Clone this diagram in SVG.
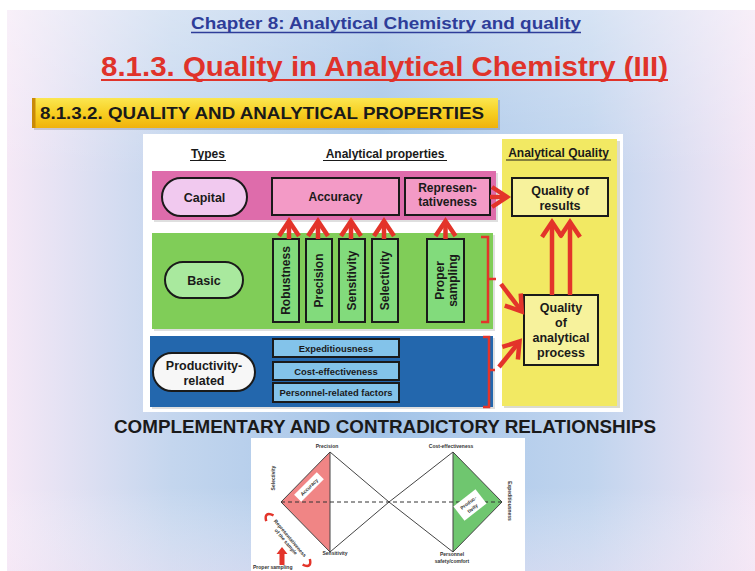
<svg xmlns="http://www.w3.org/2000/svg" width="755" height="571" viewBox="0 0 755 571">
<defs>
<linearGradient id="bg" x1="0" y1="0" x2="1" y2="0">
<stop offset="0" stop-color="#f5e8f6"/>
<stop offset="0.22" stop-color="#c4d6ee"/>
<stop offset="0.5" stop-color="#a3c4e8"/>
<stop offset="0.78" stop-color="#c0d4ee"/>
<stop offset="1" stop-color="#f4e6f5"/>
</linearGradient>
<linearGradient id="bgv" x1="0" y1="0" x2="0" y2="1">
<stop offset="0" stop-color="#ffffff" stop-opacity="0.35"/>
<stop offset="0.3" stop-color="#ffffff" stop-opacity="0"/>
<stop offset="0.85" stop-color="#ffffff" stop-opacity="0"/>
<stop offset="1" stop-color="#f6e8f6" stop-opacity="0.4"/>
</linearGradient>
<linearGradient id="ban" x1="0" y1="0" x2="0" y2="1">
<stop offset="0" stop-color="#fbe650"/>
<stop offset="0.5" stop-color="#f7cf22"/>
<stop offset="1" stop-color="#f0b20c"/>
</linearGradient>
<marker id="ah" markerUnits="userSpaceOnUse" markerWidth="40" markerHeight="40" viewBox="-20 -20 40 40" refX="0" refY="0" orient="auto" overflow="visible">
<path d="M-15,-10 L0,0 L-15,10" fill="none" stroke="#e3342a" stroke-width="4.5"/>
</marker>
<style>
.t{font-family:"Liberation Sans",Arial,sans-serif;font-weight:bold;fill:#1a1a1a}
.c{text-anchor:middle}
.box{stroke:#1a1a1a;stroke-width:2}
.arr{stroke:#e3342a;stroke-width:4.5;fill:none;marker-end:url(#ah)}
.br{stroke:#e3342a;stroke-width:2.5;fill:none}
.s{font-family:"Liberation Sans",Arial,sans-serif;font-weight:bold;fill:#333;font-size:5px;text-anchor:middle}
</style>
</defs>
<rect x="0" y="0" width="755" height="571" fill="#ffffff"/>
<rect x="7" y="10" width="748" height="561" fill="url(#bg)"/>
<rect x="7" y="10" width="748" height="561" fill="url(#bgv)"/>

<g id="titles">
<text class="t" x="191" y="29" font-size="17" fill="#2e3d99" style="fill:#2e3d99" textLength="390" lengthAdjust="spacingAndGlyphs">Chapter 8: Analytical Chemistry and quality</text>
<line x1="191" y1="32.5" x2="581" y2="32.5" stroke="#2e3d99" stroke-width="1.6"/>
<text class="t" x="101" y="75.5" font-size="27" style="fill:#e0332a" textLength="567" lengthAdjust="spacingAndGlyphs">8.1.3. Quality in Analytical Chemistry (III)</text>
<line x1="101" y1="80" x2="668" y2="80" stroke="#e0332a" stroke-width="2.2"/>
</g>

<g id="banner">
<rect x="34" y="100" width="466" height="30" fill="#000" opacity="0.15"/>
<rect x="32" y="98" width="466" height="30" fill="url(#ban)"/>
<rect x="32" y="98" width="3.5" height="30" fill="#c98a08"/>
<text class="t" x="40" y="119.3" font-size="17" textLength="444" lengthAdjust="spacingAndGlyphs">8.1.3.2. QUALITY AND ANALYTICAL PROPERTIES</text>
</g>

<rect id="panel" x="143" y="134" width="480" height="278" fill="#ffffff"/>

<g id="headers">
<text class="t c" x="208" y="158" font-size="12">Types</text>
<line x1="190" y1="160.5" x2="226" y2="160.5" stroke="#1a1a1a" stroke-width="1.2"/>
<text class="t c" x="385" y="158" font-size="12">Analytical properties</text>
<line x1="323" y1="160.5" x2="447" y2="160.5" stroke="#1a1a1a" stroke-width="1.2"/>
</g>

<g id="yellow-column">
<rect x="504" y="141" width="116" height="267" fill="#b8b8a0" opacity="0.5"/>
<rect x="502" y="139" width="115" height="267" fill="#f2e963"/>
<text class="t c" x="558.5" y="157" font-size="12">Analytical Quality</text>
<line x1="506" y1="160" x2="611" y2="160" stroke="#1a1a1a" stroke-width="1.2"/>
</g>

<g id="band-capital">
<rect x="154" y="173" width="344" height="49" fill="#b0b0b0" opacity="0.4"/>
<rect x="152" y="171" width="344" height="49" fill="#de6cab"/>
</g>
<g id="band-basic">
<rect x="154" y="235" width="341" height="96" fill="#b0b0b0" opacity="0.4"/>
<rect x="152" y="233" width="341" height="96" fill="#80cd58"/>
</g>
<g id="band-productivity">
<rect x="152" y="338" width="343" height="71" fill="#b0b0b0" opacity="0.4"/>
<rect x="150" y="336" width="343" height="71" fill="#2367ad"/>
</g>

<g id="capital">
<rect class="box" x="162" y="178" width="85" height="38" rx="19" fill="#f1c9ef"/>
<text class="t c" x="204.5" y="201.5" font-size="12.5">Capital</text>
</g>
<g id="accuracy">
<rect class="box" x="272" y="178" width="127" height="37" fill="#f39ac6"/>
<text class="t c" x="335.5" y="201" font-size="12">Accuracy</text>
</g>
<g id="representativeness">
<rect class="box" x="405" y="178" width="85" height="37" fill="#f39ac6"/>
<text class="t c" x="447.5" y="192" font-size="12">Represen-</text>
<text class="t c" x="447.5" y="206" font-size="12">tativeness</text>
</g>

<g id="basic">
<rect class="box" x="165" y="262" width="78" height="36" rx="18" fill="#a9e99e"/>
<text class="t c" x="204" y="284.5" font-size="12.5">Basic</text>
</g>
<g id="robustness">
<rect class="box" x="273" y="239" width="26" height="83" fill="#82db7c"/>
<text class="t c" font-size="12" transform="translate(290.3,280.5) rotate(-90)">Robustness</text>
</g>
<g id="precision">
<rect class="box" x="306" y="239" width="26" height="83" fill="#82db7c"/>
<text class="t c" font-size="12" transform="translate(323.3,280.5) rotate(-90)">Precision</text>
</g>
<g id="sensitivity">
<rect class="box" x="339" y="239" width="26" height="83" fill="#82db7c"/>
<text class="t c" font-size="12" transform="translate(356.3,280.5) rotate(-90)">Sensitivity</text>
</g>
<g id="selectivity">
<rect class="box" x="372" y="239" width="26" height="83" fill="#82db7c"/>
<text class="t c" font-size="12" transform="translate(389.3,280.5) rotate(-90)">Selectivity</text>
</g>
<g id="proper-sampling">
<rect class="box" x="427" y="239" width="37" height="83" fill="#82db7c"/>
<text class="t c" font-size="12" transform="translate(443.8,280.5) rotate(-90)">Proper</text>
<text class="t c" font-size="12" transform="translate(457.3,280.5) rotate(-90)">sampling</text>
</g>

<g id="productivity-related">
<rect class="box" x="153" y="353" width="102" height="38" rx="19" fill="#f7f7f7"/>
<text class="t c" x="204" y="370" font-size="12.5">Productivity-</text>
<text class="t c" x="204" y="384.5" font-size="12.5">related</text>
</g>
<g id="expeditiousness">
<rect class="box" x="273" y="339" width="126" height="18" fill="#83c3ea"/>
<text class="t c" x="336" y="351.5" font-size="9.4">Expeditiousness</text>
</g>
<g id="cost-effectiveness">
<rect class="box" x="273" y="362" width="126" height="18" fill="#83c3ea"/>
<text class="t c" x="336" y="374.5" font-size="9.4">Cost-effectiveness</text>
</g>
<g id="personnel">
<rect class="box" x="273" y="383" width="126" height="19" fill="#83c3ea"/>
<text class="t c" x="336" y="396" font-size="9.4">Personnel-related factors</text>
</g>

<g id="quality-results">
<rect class="box" x="512" y="178" width="96" height="38" fill="#f7f29c"/>
<text class="t c" x="560" y="195" font-size="12.5">Quality of</text>
<text class="t c" x="560" y="209.5" font-size="12.5">results</text>
</g>
<g id="quality-process">
<rect class="box" x="524" y="295" width="74" height="70" fill="#f7f29c"/>
<text class="t c" x="561" y="312" font-size="12.5">Quality</text>
<text class="t c" x="561" y="327" font-size="12.5">of</text>
<text class="t c" x="561" y="342" font-size="12.5">analytical</text>
<text class="t c" x="561" y="357" font-size="12.5">process</text>
</g>

<g id="connectors">
<line class="arr" x1="289" y1="239" x2="289" y2="221"/>
<line class="arr" x1="318" y1="239" x2="318" y2="221"/>
<line class="arr" x1="351" y1="239" x2="351" y2="221"/>
<line class="arr" x1="384" y1="239" x2="384" y2="221"/>
<line class="arr" x1="445.5" y1="239" x2="445.5" y2="221"/>
<line class="arr" x1="490" y1="197" x2="507" y2="197"/>
<line class="arr" x1="552" y1="295" x2="552" y2="222"/>
<line class="arr" x1="570" y1="295" x2="570" y2="222"/>
<path class="br" d="M481,237 H488 V322 H481 M488,279 H496"/>
<path class="br" d="M483,337 H489 V407 H483 M489,370 H495"/>
<line class="arr" x1="501" y1="284" x2="521.8" y2="311.5"/>
<line class="arr" x1="499" y1="367" x2="519.5" y2="341.5"/>
</g>

<g id="subtitle">
<text class="t" x="114" y="433" font-size="18" textLength="542" lengthAdjust="spacingAndGlyphs">COMPLEMENTARY AND CONTRADICTORY RELATIONSHIPS</text>
</g>

<g id="relationship-figure">
<rect x="251" y="438" width="274" height="133" fill="#ffffff"/>
<polygon points="281,502 330,452 330,552" fill="#f08585"/>
<polygon points="453,452 502,502 453,552" fill="#6fc66f"/>
<polygon points="281,502 330,452 389,502 330,552" fill="none" stroke="#444" stroke-width="1"/>
<polygon points="389,502 453,452 502,502 453,552" fill="none" stroke="#444" stroke-width="1"/>
<line x1="330" y1="452" x2="330" y2="552" stroke="#444" stroke-width="1"/>
<line x1="453" y1="452" x2="453" y2="552" stroke="#444" stroke-width="1"/>
<line x1="281" y1="502" x2="502" y2="502" stroke="#333" stroke-width="1" stroke-dasharray="4,3"/>
<text class="s" x="327" y="448">Precision</text>
<text class="s" x="451" y="448">Cost-effectiveness</text>
<text class="s" x="335" y="555">Sensitivity</text>
<text class="s" x="452" y="556">Personnel</text>
<text class="s" x="452" y="563">safety/comfort</text>
<text class="s" transform="translate(275,478) rotate(-90)">Selectivity</text>
<text class="s" transform="translate(507.5,501) rotate(90)">Expeditiousness</text>
<g transform="translate(309,487) rotate(-45)">
<rect x="-16" y="-5" width="32" height="10" fill="#ffffff"/>
<text class="s" x="0" y="2" font-size="5.5">Accuracy</text>
</g>
<g transform="translate(470,505) rotate(-38)">
<rect x="-14" y="-9" width="28" height="18" fill="#ffffff"/>
<text class="s" x="0" y="-1" font-size="5.5">Produc-</text>
<text class="s" x="0" y="6" font-size="5.5">tivity</text>
</g>
<g transform="translate(288,540) rotate(50)">
<ellipse cx="0" cy="0" rx="33" ry="9" fill="#ffffff" stroke="#e3342a" stroke-width="2.5" stroke-dasharray="14,57.5" stroke-dashoffset="7"/>
<text class="s" x="0" y="-1" font-size="4.5">Representativeness</text>
<text class="s" x="0" y="4.5" font-size="4.5">of the sample</text>
</g>
<polygon points="282,547 287.5,554 284.5,554 284.5,565 279.5,565 279.5,554 276.5,554" fill="#e3342a"/>
<text class="s" x="253" y="569" style="text-anchor:start" font-size="5.5">Proper sampling</text>
</g>
</svg>
